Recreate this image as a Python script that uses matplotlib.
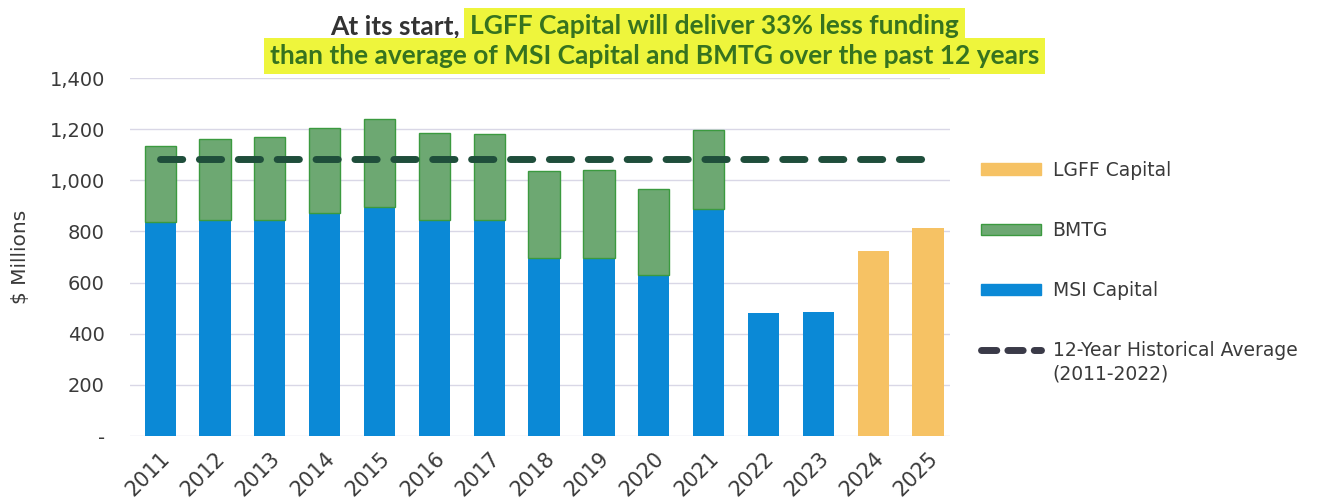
import matplotlib
matplotlib.use('Agg')
import matplotlib.pyplot as plt
from matplotlib.patches import Patch
from matplotlib.lines import Line2D
import numpy as np

years = ['2011', '2012', '2013', '2014', '2015', '2016', '2017', '2018',
         '2019', '2020', '2021', '2022', '2023', '2024', '2025']
msi = [835, 843, 845, 871, 897, 846, 843, 697, 695, 630, 886, 482, 485, 0, 0]
bmtg = [298, 317, 325, 333, 344, 337, 337, 338, 346, 335, 309, 0, 0, 0, 0]
lgff = [0, 0, 0, 0, 0, 0, 0, 0, 0, 0, 0, 0, 0, 725, 813]
yticks = [0, 200, 400, 600, 800, 1000, 1200, 1400]
ytick_labels = ['-', '200', '400', '600', '800', '1,000', '1,200', '1,400']

c_msi = '#0b89d6'
c_bmtg = '#6da872'
c_bmtg_edge = '#3b9a3f'
c_lgff = '#f6c264'
c_avg = '#1f4e3b'
c_text = '#3a3a3a'

# 12-year average of total funding, 2011-2022
avg = np.mean(np.array(msi[:12]) + np.array(bmtg[:12]))

plt.rcParams['font.family'] = ['DejaVu Sans']
fig = plt.figure(figsize=(13.17, 5.01), dpi=100)
ax = fig.add_axes([0.0987, 0.1297, 0.6226, 0.7146])

x = np.arange(len(years))
w = 0.57
ax.bar(x[:13], msi[:13], w, color=c_msi, zorder=2)
ax.bar(x[:11], bmtg[:11], w, bottom=msi[:11], color=c_bmtg,
       edgecolor=c_bmtg_edge, linewidth=1, zorder=2)
ax.bar(x[13:], lgff[13:], w, color=c_lgff, zorder=2)
ax.plot([x[0], x[-1]], [avg, avg], color=c_avg, lw=5, ls=(0, (3.2, 2.4)),
        dash_capstyle='round', zorder=3)

ax.set_xlim(-0.55, 14.4)
ax.set_ylim(0, 1400)
ax.set_yticks(yticks)
ax.set_yticklabels(ytick_labels)
ax.set_xticks(x)
ax.set_xticklabels(years, rotation=45, ha='right', va='top', rotation_mode='anchor')
ax.tick_params(axis='y', length=0, pad=18, labelsize=14, labelcolor=c_text)
ax.tick_params(axis='x', length=0, pad=9, labelsize=15, labelcolor=c_text)
ax.grid(axis='y', color='#d9d7e6', lw=1, zorder=0)
for s in ax.spines.values():
    s.set_visible(False)
ax.set_ylabel('$ Millions', fontsize=14.5, color=c_text, labelpad=14)

handles = [Patch(facecolor=c_lgff, edgecolor=c_lgff),
           Patch(facecolor=c_bmtg, edgecolor=c_bmtg_edge),
           Patch(facecolor=c_msi, edgecolor=c_msi),
           Line2D([0], [0], color='#3a3a48', lw=5, ls=(0, (2.2, 1.6)),
                  dash_capstyle='round')]
labels = ['LGFF Capital', 'BMTG', 'MSI Capital', '12-Year Historical Average']
leg = fig.legend(handles, labels, loc='upper left', bbox_to_anchor=(0.732, 0.713),
                 frameon=False, fontsize=13.5, handlelength=3.2, handleheight=0.55,
                 labelspacing=2.2, handletextpad=0.62, labelcolor=c_text)
fig.canvas.draw()
last = leg.get_texts()[-1].get_window_extent().transformed(fig.transFigure.inverted())
fig.text(last.x0, last.y0 - 0.008, '(2011-2022)', ha='left', va='top',
         fontsize=13.5, color=c_text)

tfont = ['Lato', 'DejaVu Sans']
hl = dict(boxstyle='square,pad=0.22', facecolor='#eef53c', edgecolor='none')
fig.text(0.354, 0.948, 'At its start, ', ha='right', va='center', fontsize=19,
         fontweight='bold', family=tfont, color='#333333')
fig.text(0.357, 0.948, 'LGFF Capital will deliver 33% less funding', ha='left',
         va='center', fontsize=19, fontweight='bold', family=tfont,
         color='#36731f', bbox=hl)
fig.text(0.497, 0.888, 'than the average of MSI Capital and BMTG over the past 12 years',
         ha='center', va='center', fontsize=19, fontweight='bold', family=tfont,
         color='#36731f', bbox=hl)

fig.savefig('out.png', dpi=100)
